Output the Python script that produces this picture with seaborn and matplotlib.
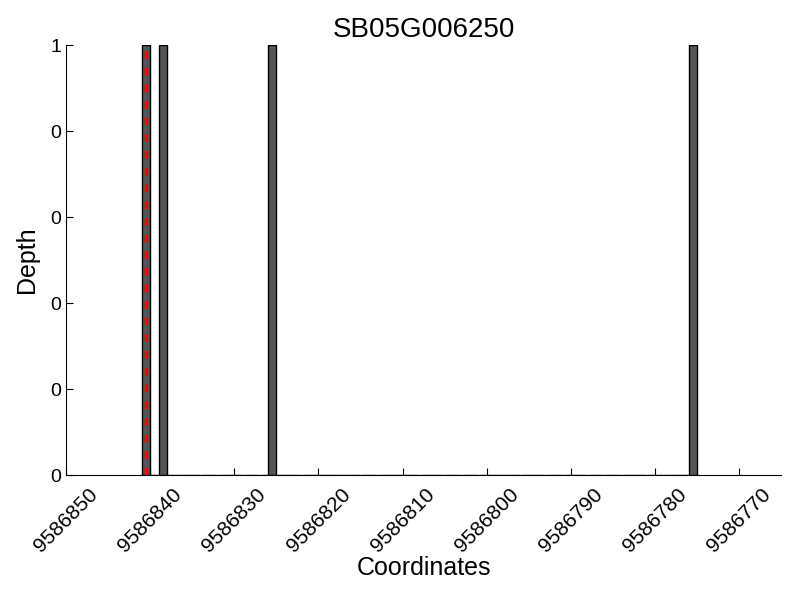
import matplotlib
matplotlib.use("Agg")
import matplotlib.pyplot as plt
import matplotlib.ticker as mticker
import numpy as np
import pandas as pd
import seaborn as sns

# data
gene = "SB05G006250"
coords = [9586840, 9586838, 9586825, 9586775]
depth = [1, 1, 1, 1]
marker_pos = 9586840.5
xticks = [9586850, 9586840, 9586830, 9586820, 9586810, 9586800, 9586790, 9586780, 9586770]
yticks = [0, 0.2, 0.4, 0.6, 0.8, 1.0]

df = pd.DataFrame({"coord": coords, "depth": depth})

sns.set_style("ticks", {"axes.edgecolor": "black", "text.color": "black",
                        "axes.labelcolor": "black", "xtick.color": "black",
                        "ytick.color": "black"})
plt.rcParams['font.family'] = ['Liberation Sans', 'DejaVu Sans']

fig = plt.figure(figsize=(8, 6), dpi=100)
ax = fig.add_axes([0.0825, 0.208, 0.894, 0.717])

sns.histplot(
    data=df, x="coord", weights="depth",
    binwidth=1, binrange=(min(coords), max(coords) + 1),
    shrink=0.95, color="#555555", alpha=1,
    edgecolor="black", linewidth=1, ax=ax,
)
ax.vlines(marker_pos, 0, 1, colors="red", linestyles=(0, (2.2, 2.6)), linewidth=2.5, zorder=5)

ax.set_xlim(9586850, 9586765)
ax.set_ylim(0, 1)
ax.set_xticks(xticks)
ax.set_yticks(yticks)
ax.xaxis.set_major_formatter(mticker.FormatStrFormatter('%d'))
ax.yaxis.set_major_formatter(mticker.FormatStrFormatter('%d'))
ax.tick_params(direction='in', length=5, labelsize=14)
ax.tick_params(axis='x', labelsize=15, pad=7)
plt.setp(ax.get_xticklabels(), rotation=45, ha='center')

sns.despine(ax=ax)
ax.set_title(gene, fontsize=20)
ax.set_xlabel("Coordinates", fontsize=18, labelpad=0)
ax.set_ylabel("Depth", fontsize=18, labelpad=8)

fig.savefig("out.png", dpi=100)
